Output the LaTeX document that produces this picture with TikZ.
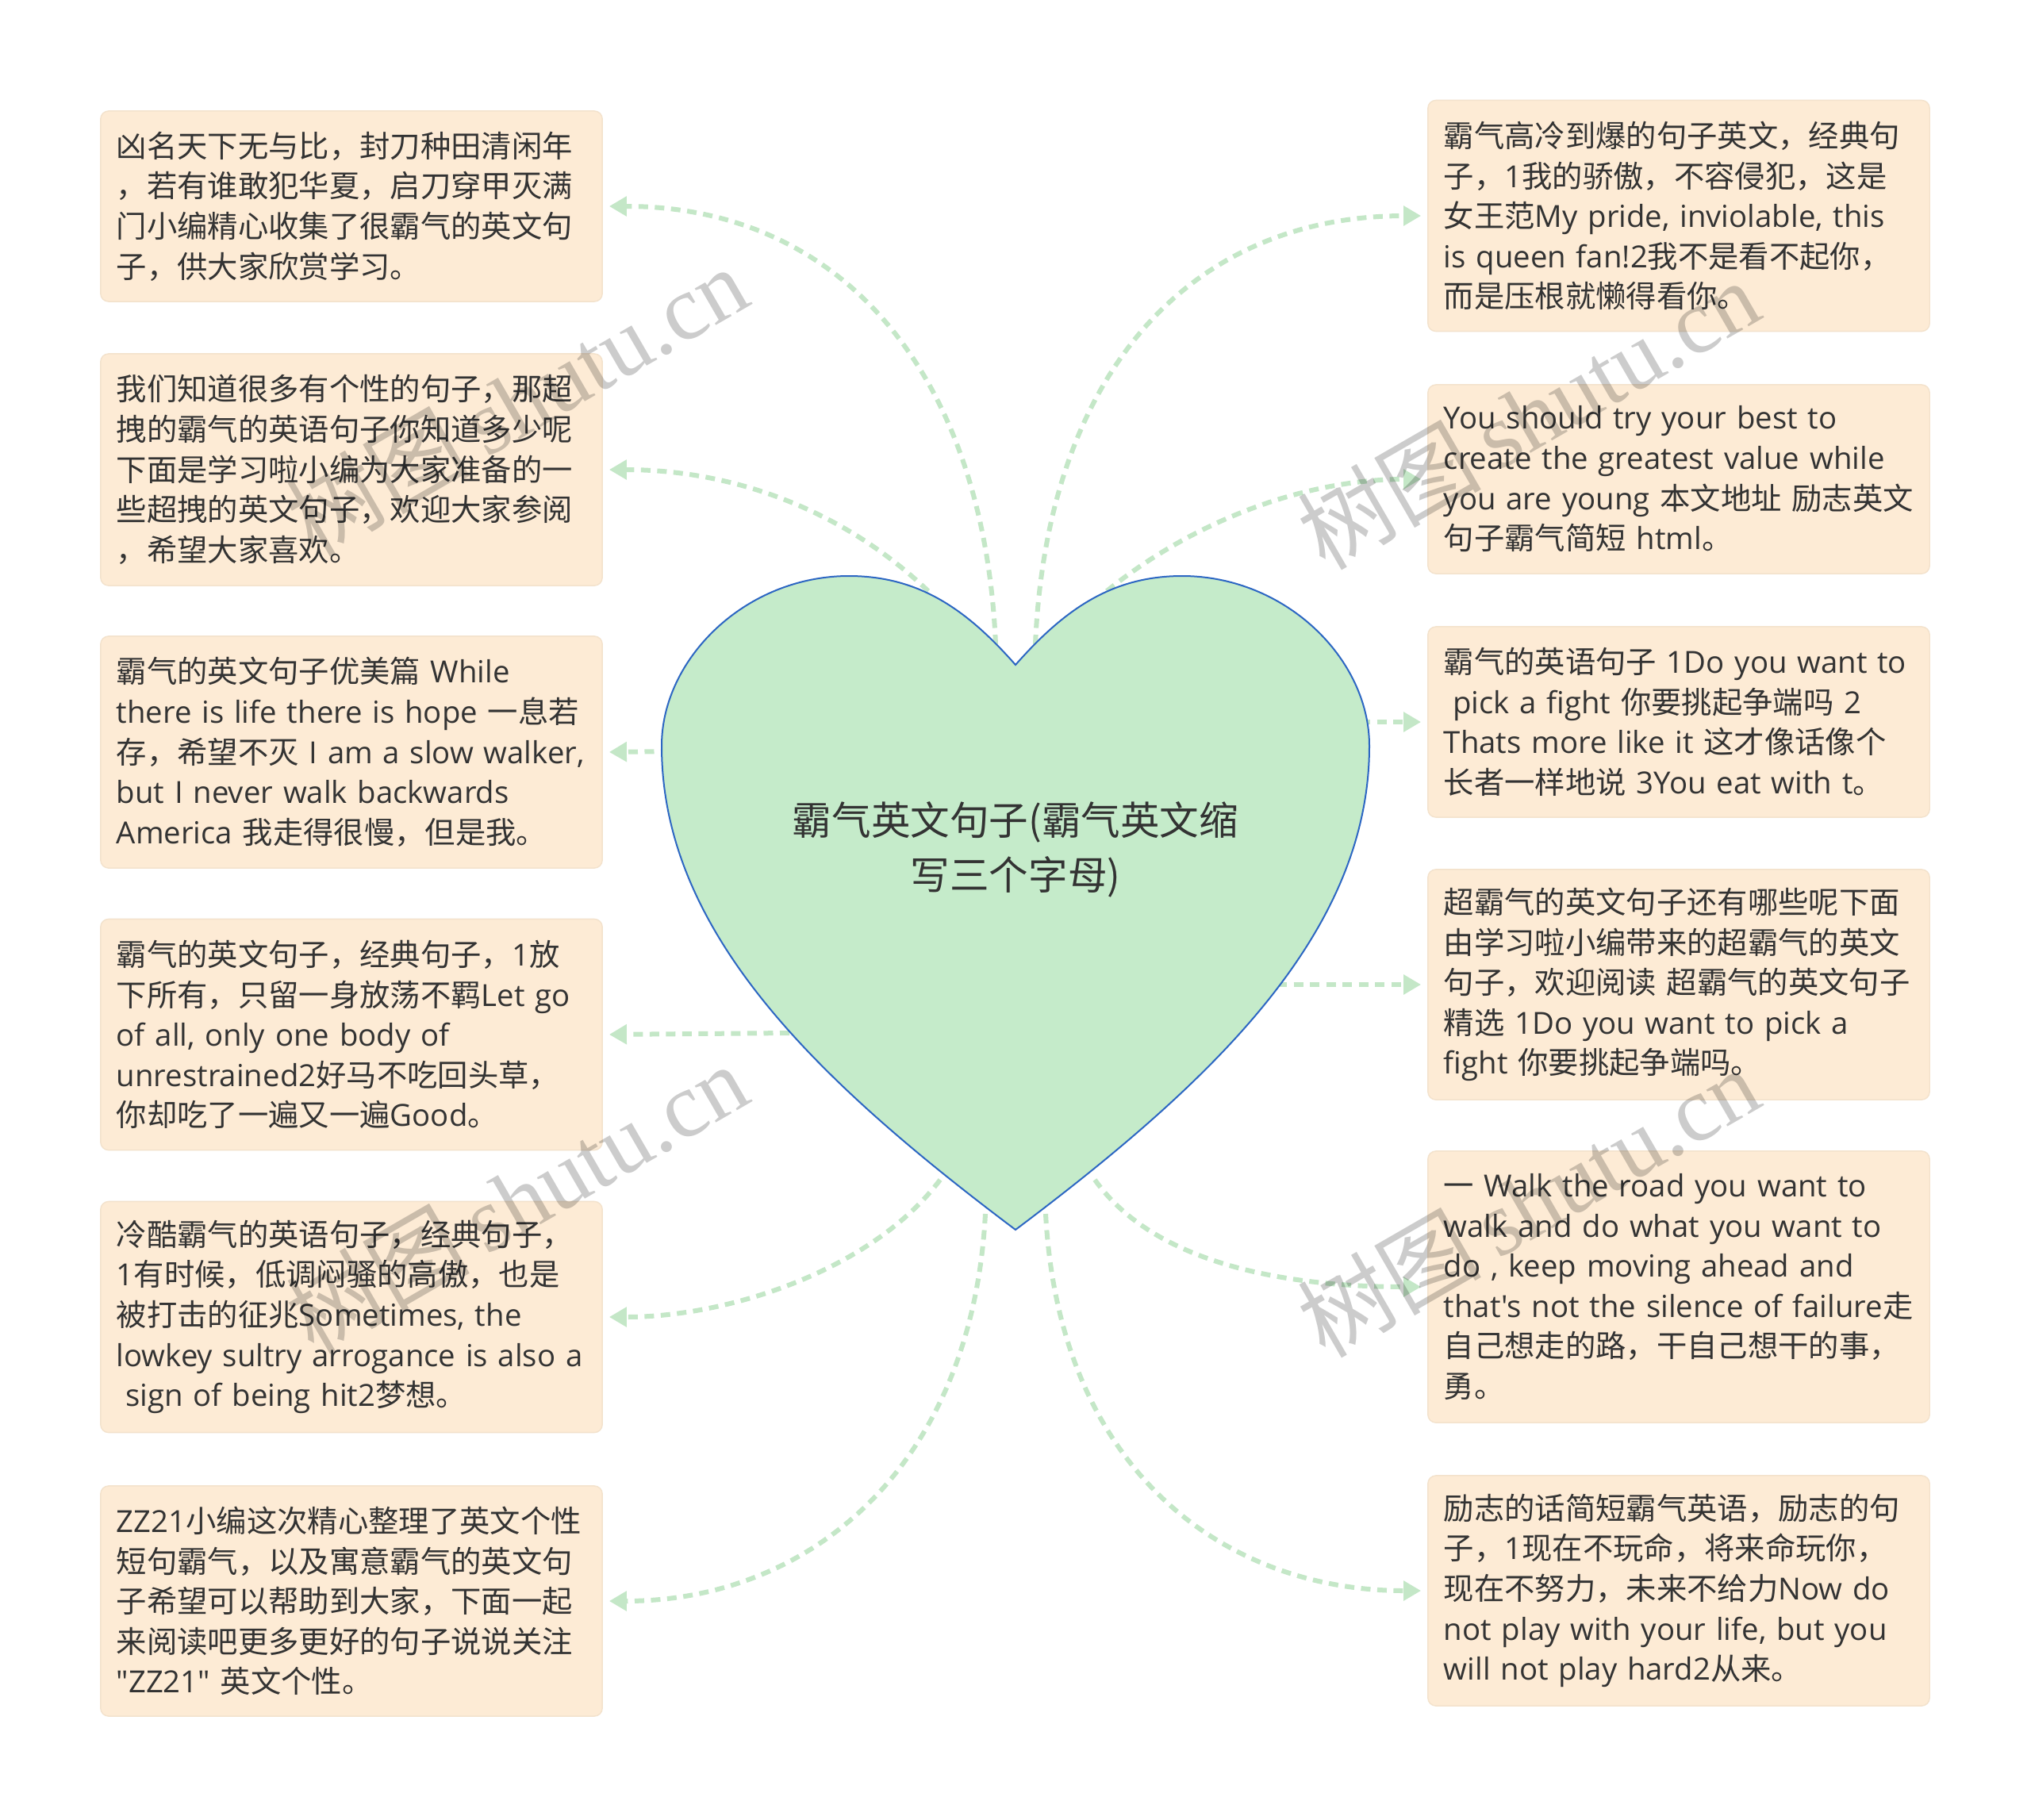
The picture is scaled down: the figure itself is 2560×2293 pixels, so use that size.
\documentclass[tikz,border=0pt]{standalone}
\usepackage{fontspec}
\setmainfont{Open Sans}[Ligatures=TeXOff]
\newfontfamily\cjk{Noto Sans CJK SC}
\newfontfamily\wmlatin{Liberation Serif}
\usetikzlibrary{arrows.meta}
\definecolor{boxfill}{HTML}{FDEBD5}
\definecolor{boxline}{HTML}{F3E2CC}
\definecolor{heartfill}{HTML}{C5EBCA}
\definecolor{heartline}{HTML}{2C66C3}
\definecolor{conncol}{HTML}{C4E7C7}
\definecolor{txt}{HTML}{333333}
\newcommand\zhs[1]{{\cjk #1}}
\newcommand\lne[1]{\mbox{#1}}
\begin{document}
\begin{tikzpicture}[x=0.01cm,y=-0.01cm,
  leaf/.style={draw=boxline, line width=0.4pt, fill=boxfill, rounded corners=0.1cm,
    text=txt, align=left, text width=5.92cm, inner xsep=0.2cm, inner ysep=0pt,
    minimum width=6.32cm, font=\fontsize{10.9}{14.4}\selectfont},
  conn/.style={draw=conncol, line width=0.06cm, dash pattern=on 0.12cm off 0.085cm,
    -{Triangle[length=0.22cm,width=0.24cm]}, shorten >=0.08cm},
  wm/.style={rotate=30, text=black, text opacity=0.2, font=\fontsize{33}{36}\selectfont},
  rootlabel/.style={text=txt, align=center, font=\fontsize{14.1}{19.5}\selectfont\cjk}
]
\fill[white] (0,0) rectangle (2560,2293);
\useasboundingbox (0,0) rectangle (2560,2293);

% ---------- left boxes ----------
\node[leaf, minimum height=2.40cm] (L1) at (443,260) {%
\lne{\zhs{凶名天下无与比，封刀种田清闲年}}\\
\lne{\zhs{，若有谁敢犯华夏，启刀穿甲灭满}}\\
\lne{\zhs{门小编精心收集了很霸气的英文句}}\\
\lne{\zhs{子，供大家欣赏学习。}}};

\node[leaf, minimum height=2.92cm] (L2) at (443,592) {%
\lne{\zhs{我们知道很多有个性的句子，那超}}\\
\lne{\zhs{拽的霸气的英语句子你知道多少呢}}\\
\lne{\zhs{下面是学习啦小编为大家准备的一}}\\
\lne{\zhs{些超拽的英文句子，欢迎大家参阅}}\\
\lne{\zhs{，希望大家喜欢。}}};

\node[leaf, minimum height=2.92cm] (L3) at (443,948) {%
\lne{\zhs{霸气的英文句子优美篇} While}\\
\lne{there is life there is hope \zhs{一息若}}\\
\lne{\zhs{存，希望不灭} I am a slow walker,}\\
\lne{but I never walk backwards}\\
\lne{America \zhs{我走得很慢，但是我。}}};

\node[leaf, minimum height=2.91cm] (L4) at (443,1304) {%
\lne{\zhs{霸气的英文句子，经典句子，}1\zhs{放}}\\
\lne{\zhs{下所有，只留一身放荡不羁}Let go}\\
\lne{of all, only one body of}\\
\lne{unrestrained2\zhs{好马不吃回头草，}}\\
\lne{\zhs{你却吃了一遍又一遍}Good\zhs{。}}};

\node[leaf, minimum height=2.91cm] (L5) at (443,1660) {%
\lne{\zhs{冷酷霸气的英语句子，经典句子，}}\\
\lne{1\zhs{有时候，低调闷骚的高傲，也是}}\\
\lne{\zhs{被打击的征兆}Sometimes, the}\\
\lne{lowkey sultry arrogance is also a}\\
\lne{\hspace*{0.3em}sign of being hit2\zhs{梦想。}}};

\node[leaf, minimum height=2.90cm] (L6) at (443,2018) {%
\lne{ZZ21\zhs{小编这次精心整理了英文个性}}\\
\lne{\zhs{短句霸气，以及寓意霸气的英文句}}\\
\lne{\zhs{子希望可以帮助到大家，下面一起}}\\
\lne{\zhs{来阅读吧更多更好的句子说说关注}}\\
\lne{"ZZ21" \zhs{英文个性。}}};

% ---------- right boxes ----------
\node[leaf, minimum height=2.91cm] (R1) at (2116,272) {%
\lne{\zhs{霸气高冷到爆的句子英文，经典句}}\\
\lne{\zhs{子，}1\zhs{我的骄傲，不容侵犯，这是}}\\
\lne{\zhs{女王范}My pride, inviolable, this}\\
\lne{is queen fan!2\zhs{我不是看不起你，}}\\
\lne{\zhs{而是压根就懒得看你。}}};

\node[leaf, minimum height=2.38cm] (R2) at (2116,604) {%
\lne{You should try your best to}\\
\lne{create the greatest value while}\\
\lne{you are young \zhs{本文地址 励志英文}}\\
\lne{\zhs{句子霸气简短} html\zhs{。}}};

\node[leaf, minimum height=2.40cm] (R3) at (2116,910) {%
\lne{\zhs{霸气的英语句子} 1Do you want to}\\
\lne{\hspace*{0.3em}pick a fight \zhs{你要挑起争端吗} 2}\\
\lne{Thats more like it \zhs{这才像话像个}}\\
\lne{\zhs{长者一样地说} 3You eat with t\zhs{。}}};

\node[leaf, minimum height=2.90cm] (R4) at (2116,1241) {%
\lne{\zhs{超霸气的英文句子还有哪些呢下面}}\\
\lne{\zhs{由学习啦小编带来的超霸气的英文}}\\
\lne{\zhs{句子，欢迎阅读 超霸气的英文句子}}\\
\lne{\zhs{精选} 1Do you want to pick a}\\
\lne{fight \zhs{你要挑起争端吗。}}};

\node[leaf, minimum height=3.42cm] (R5) at (2116,1622) {%
\lne{\zhs{一} Walk the road you want to}\\
\lne{walk and do what you want to}\\
\lne{do , keep moving ahead and}\\
\lne{that's not the silence of failure\zhs{走}}\\
\lne{\zhs{自己想走的路，干自己想干的事，}}\\
\lne{\zhs{勇。}}};

\node[leaf, minimum height=2.90cm] (R6) at (2116,2005) {%
\lne{\zhs{励志的话简短霸气英语，励志的句}}\\
\lne{\zhs{子，}1\zhs{现在不玩命，将来命玩你，}}\\
\lne{\zhs{现在不努力，未来不给力}Now do}\\
\lne{not play with your life, but you}\\
\lne{will not play hard2\zhs{从来。}}};

% ---------- connector start points on the heart ----------
\coordinate (sL1) at (1255,812);
\coordinate (sL2) at (1170,745);
\coordinate (sL3) at (845,947);
\coordinate (sL4) at (995,1302);
\coordinate (sL5) at (1185,1487);
\coordinate (sL6) at (1242,1530);
\coordinate (sR1) at (1305,812);
\coordinate (sR2) at (1395,745);
\coordinate (sR3) at (1715,910);
\coordinate (sR4) at (1610,1241);
\coordinate (sR5) at (1380,1487);
\coordinate (sR6) at (1318,1530);

% ---------- connectors ----------
\draw[conn] (sL1) .. controls (1240,470) and (1060,260) .. (L1.east);
\draw[conn] (sL2) .. controls (1060,640) and (920,592) .. (L2.east);
\draw[conn] (sL3) -- (L3.east);
\draw[conn] (sL4) -- (L4.east);
\draw[conn] (sL5) .. controls (1100,1600) and (920,1660) .. (L5.east);
\draw[conn] (sL6) .. controls (1225,1850) and (1020,2018) .. (L6.east);
\draw[conn] (sR1) .. controls (1320,470) and (1500,272) .. (R1.west);
\draw[conn] (sR2) .. controls (1500,660) and (1640,604) .. (R2.west);
\draw[conn] (sR3) -- (R3.west);
\draw[conn] (sR4) -- (R4.west);
\draw[conn] (sR5) .. controls (1460,1600) and (1640,1622) .. (R5.west);
\draw[conn] (sR6) .. controls (1335,1850) and (1540,2005) .. (R6.west);

% ---------- heart ----------
\path[fill=heartfill, draw=heartline, line width=0.02cm, line join=miter]
  (1280,838)
  .. controls (1340,770) and (1400,726) .. (1490,726)
  .. controls (1620,726) and (1726,830) .. (1726,940)
  .. controls (1726,1175) and (1530,1362) .. (1280,1550)
  .. controls (1030,1362) and (834,1175) .. (834,940)
  .. controls (834,830) and (940,726) .. (1070,726)
  .. controls (1160,726) and (1220,770) .. (1280,838) -- cycle;
\node[rootlabel] (root) at (1280,1071) {霸气英文句子(霸气英文缩\\写三个字母)};

% ---------- watermarks ----------
\node[wm] (w1) at (651,505) {\zhs{树图}\,{\wmlatin shutu.cn}};
\node[wm] (w2) at (1926,522) {\zhs{树图}\,{\wmlatin shutu.cn}};
\node[wm] (w3) at (651,1510) {\zhs{树图}\,{\wmlatin shutu.cn}};
\node[wm] (w4) at (1926,1515) {\zhs{树图}\,{\wmlatin shutu.cn}};
\end{tikzpicture}
\end{document}
